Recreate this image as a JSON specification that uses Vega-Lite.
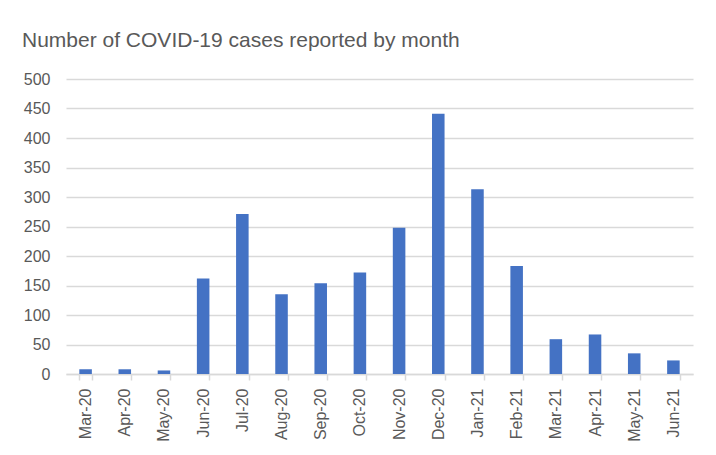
{
  "$schema": "https://vega.github.io/schema/vega-lite/v6.json",
  "autosize": {"type": "none"},
  "padding": {"left": 66, "top": 79, "right": 23, "bottom": 81},
  "width": 627,
  "height": 295,
  "background": "white",
  "title": {
    "text": "Number of COVID-19 cases reported by month",
    "anchor": "start",
    "frame": "group",
    "dx": -44,
    "dy": 28,
    "offset": 31,
    "baseline": "alphabetic",
    "font": "Liberation Sans",
    "fontSize": 21,
    "fontWeight": "normal",
    "color": "#595959"
  },
  "data": {
    "values": [
      {"month": "Mar-20", "cases": 8},
      {"month": "Apr-20", "cases": 8},
      {"month": "May-20", "cases": 6},
      {"month": "Jun-20", "cases": 162},
      {"month": "Jul-20", "cases": 271},
      {"month": "Aug-20", "cases": 135},
      {"month": "Sep-20", "cases": 154},
      {"month": "Oct-20", "cases": 172},
      {"month": "Nov-20", "cases": 248},
      {"month": "Dec-20", "cases": 441},
      {"month": "Jan-21", "cases": 313},
      {"month": "Feb-21", "cases": 183},
      {"month": "Mar-21", "cases": 59},
      {"month": "Apr-21", "cases": 67},
      {"month": "May-21", "cases": 35},
      {"month": "Jun-21", "cases": 23}
    ]
  },
  "mark": {"type": "bar", "color": "#4472C4"},
  "encoding": {
    "x": {
      "field": "month",
      "type": "nominal",
      "sort": null,
      "scale": {"paddingInner": 0.68, "paddingOuter": 0.34},
      "axis": {
        "title": null,
        "labelAngle": -90,
        "labelFont": "Liberation Sans",
        "labelFontSize": 16,
        "labelColor": "#595959",
        "labelPadding": 8,
        "domainColor": "#d9d9d9",
        "domainWidth": 1.5,
        "tickColor": "#d9d9d9",
        "tickWidth": 1.5,
        "tickSize": 6,
        "tickBand": "extent",
        "grid": false
      }
    },
    "y": {
      "field": "cases",
      "type": "quantitative",
      "scale": {"domain": [0, 500]},
      "axis": {
        "title": null,
        "values": [0, 50, 100, 150, 200, 250, 300, 350, 400, 450, 500],
        "labelFont": "Liberation Sans",
        "labelFontSize": 16,
        "labelColor": "#595959",
        "labelPadding": 16,
        "domain": false,
        "ticks": false,
        "grid": true,
        "gridColor": "#d9d9d9",
        "gridWidth": 1.5
      }
    }
  },
  "config": {"view": {"stroke": null}}
}
